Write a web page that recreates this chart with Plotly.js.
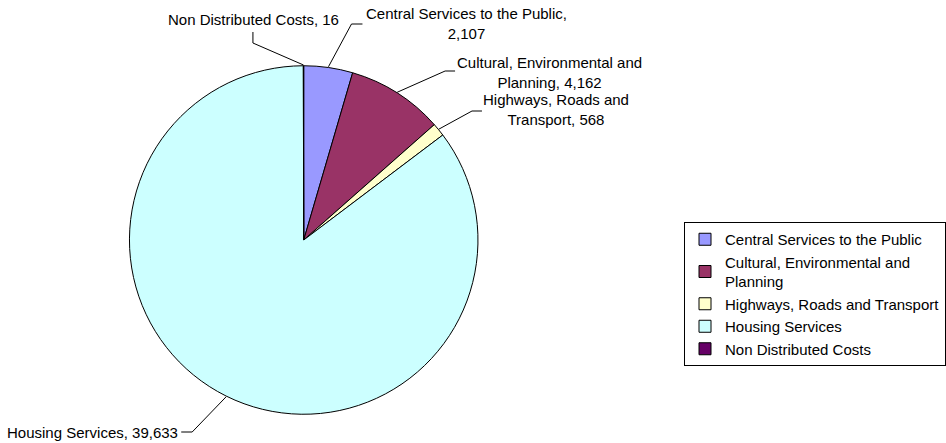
<!DOCTYPE html>
<html>
<head>
<meta charset="utf-8">
<script src="https://cdn.plot.ly/plotly-3.0.1.min.js"></script>
<style>html,body{margin:0;padding:0;background:#fff;}#chart{width:946px;height:443px;}</style>
</head>
<body>
<div id="chart"></div>
<script>
// ---- data ----
const categories = ['Central Services to the Public', 'Cultural, Environmental and Planning', 'Highways, Roads and Transport', 'Housing Services', 'Non Distributed Costs'];
const values = [2107, 4162, 568, 39633, 16];
const colors = ['#9999FF', '#993366', '#FFFFCC', '#CCFFFF', '#660066'];
const legendNames = ['Central Services to the Public', 'Cultural, Environmental and<br>Planning', 'Highways, Roads and Transport', 'Housing Services', 'Non Distributed Costs'];
const breakAfter = ['Public,', 'and', 'and', null, null];

// ---- layout constants (pixels) ----
const W = 946, H = 443;
const CX = 305, CY = 240, R = 175;
// elbow, end of leader line, text anchor
const labelPos = [
  {ex: 353, ey: 24, tx: 364, ty: 24, x: 468, y: 24, anchor: 'center'},
  {ex: 447, ey: 71, tx: 457, ty: 71, x: 552, y: 72, anchor: 'center'},
  {ex: 474, ey: 111, tx: 484, ty: 111, x: 558, y: 109, anchor: 'center'},
  {ex: 193, ey: 432, tx: 182, ty: 432, x: 181, y: 432, anchor: 'right'},
  {ex: 254, ey: 43, tx: 254, ty: 32, x: 255, y: 20, anchor: 'center'}
];
const px = x => x / W;
const py = y => 1 - y / H;
const FONT = '"Liberation Sans", Arial, sans-serif';

const total = values.reduce((a, b) => a + b, 0);
let cum = 0;
const annotations = [], shapes = [];
values.forEach((v, i) => {
  const mid = (cum + v / 2) / total * 2 * Math.PI;
  cum += v;
  const sx = CX + R * Math.sin(mid), sy = CY - R * Math.cos(mid);
  const p = labelPos[i];
  shapes.push({
    type: 'path', xref: 'paper', yref: 'paper',
    path: `M ${px(sx)} ${py(sy)} L ${px(p.ex)} ${py(p.ey)} L ${px(p.tx)} ${py(p.ty)}`,
    line: {color: '#000', width: 1}
  });
  let txt = categories[i] + ', ' + v.toLocaleString('en-US');
  if (breakAfter[i]) txt = txt.replace(breakAfter[i] + ' ', breakAfter[i] + '<br>');
  annotations.push({
    xref: 'paper', yref: 'paper', x: px(p.x), y: py(p.y),
    xanchor: p.anchor, yanchor: 'middle', showarrow: false, align: 'center',
    text: txt, font: {family: FONT, size: 15, color: '#000'}
  });
});

const trace = {
  type: 'pie',
  labels: legendNames,
  values: values,
  sort: false,
  direction: 'clockwise',
  rotation: 0,
  textinfo: 'none',
  hoverinfo: 'label+value',
  marker: {colors: colors, line: {color: '#000', width: 1}},
  domain: {x: [px(CX - R), px(CX + R)], y: [py(CY + R), py(CY - R)]}
};

const layout = {
  width: W, height: H,
  margin: {l: 0, r: 0, t: 0, b: 0},
  paper_bgcolor: '#fff',
  showlegend: true,
  legend: {
    x: px(687), y: py(222), xanchor: 'left', yanchor: 'top',
    bordercolor: '#000', borderwidth: 1, bgcolor: '#fff',
    font: {family: FONT, size: 15, color: '#000'},
    traceorder: 'normal'
  },
  annotations: annotations,
  shapes: shapes
};

Plotly.newPlot('chart', [trace], layout, {displayModeBar: false, staticPlot: true});
</script>
</body>
</html>
